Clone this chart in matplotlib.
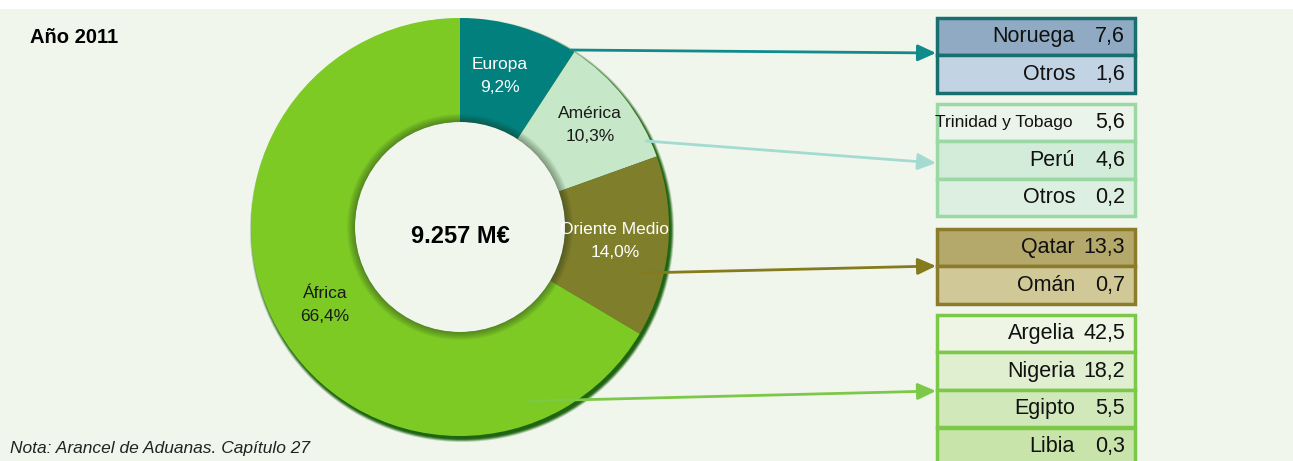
import matplotlib.pyplot as plt
from matplotlib.patches import Rectangle, Circle

plt.rcParams['font.family'] = ['Liberation Sans', 'DejaVu Sans']

# reparto por zonas (%)
zonas = ['Europa', 'América', 'Oriente Medio', 'África']
cuotas = [9.2, 10.3, 14.0, 66.4]
col_zonas = ['#02807e', '#c6e7c8', '#7f7e2b', '#7dca25']
col_txt = ['white', '#1a1a1a', 'white', '#1a1a1a']
total = '9.257 M€'

# detalle por país (%)
paises = [['Noruega', 'Otros'],
          ['Trinidad y Tobago', 'Perú', 'Otros'],
          ['Qatar', 'Omán'],
          ['Argelia', 'Nigeria', 'Egipto', 'Libia']]
valores = [[7.6, 1.6],
           [5.6, 4.6, 0.2],
           [13.3, 0.7],
           [42.5, 18.2, 5.5, 0.3]]
col_celdas = [['#8faac2', '#c2d3e3'],
              ['#ebf4ea', '#d3ebd9', '#ddefe1'],
              ['#b4a86a', '#d0c896'],
              ['#eef5e5', '#e0efcf', '#d1e8ba', '#c9e4aa']]
col_borde = ['#17706f', '#9ad9a4', '#8b7b2a', '#7cc848']
col_flecha = ['#118a8c', '#a3dbd0', '#857a1e', '#7cc848']

W, H = 1293, 461
fondo = '#f1f6ec'
fig = plt.figure(figsize=(W / 100, H / 100), dpi=100)
ax = fig.add_axes([0, 0, 1, 1])

ax.add_patch(Rectangle((0, 0), W, H - 9, facecolor=fondo, edgecolor='none', zorder=0))

# anillo con sombra exterior suave
cx, cy, r, ancho = 460, H - 227, 209, 104
for k, a in enumerate([0.25, 0.45, 0.7, 0.9]):
    ax.add_patch(Circle((cx + 2, cy - 3), r + 3 - k, facecolor='#1c6410', alpha=a,
                        edgecolor='none', zorder=1))
wedges, _ = ax.pie(cuotas, colors=col_zonas, startangle=90, counterclock=False,
                   center=(cx, cy), radius=r, frame=True,
                   wedgeprops=dict(width=ancho, edgecolor='none', zorder=2))
ax.set_xlim(0, W)
ax.set_ylim(0, H)
ax.set_aspect('equal')
ax.axis('off')

# sombra interior del hueco
ri = r - ancho
for k in range(8):
    ax.add_patch(Circle((cx, cy), ri + 8 - k, facecolor='#203018', alpha=0.06,
                        edgecolor='none', zorder=3))
ax.add_patch(Circle((cx, cy), ri, facecolor=fondo, edgecolor='none', zorder=3))

pos_etq = [(500, H - 76), (590, H - 125), (615, H - 241), (325, H - 305)]
for (x, y), z, c, t in zip(pos_etq, zonas, cuotas, col_txt):
    ax.text(x, y, f'{z}\n{c:.1f}%'.replace('.', ','), ha='center', va='center',
            color=t, fontsize=12.5, linespacing=1.65, zorder=4)

ax.text(cx, cy - 10, total, ha='center', va='center', fontsize=17, fontweight='bold',
        zorder=4)
ax.text(30, H - 38, 'Año 2011', fontsize=14.5, fontweight='bold', va='center')
ax.text(10, H - 448, 'Nota: Arancel de Aduanas. Capítulo 27', fontsize=12.5,
        style='italic', va='center', color='#222222')

# tablas
x0, x1, alto = 937, 1135, 37.5
tops = [18, 104, 229, 315]
for k in range(4):
    top = tops[k]
    for i, (p, v) in enumerate(zip(paises[k], valores[k])):
        yb = H - top - (i + 1) * alto
        ax.add_patch(Rectangle((x0, yb), x1 - x0, alto, facecolor=col_celdas[k][i],
                               edgecolor=col_borde[k], linewidth=2.5, zorder=2))
        yc = yb + alto / 2
        small = len(p) > 12
        ax.text(1075 if not small else 1073, yc, p, ha='right', va='center',
                fontsize=12.5 if small else 15.5, color='#111111', zorder=3)
        ax.text(1125, yc, f'{v:.1f}'.replace('.', ','), ha='right', va='center',
                fontsize=15.5, color='#111111', zorder=3)

# flechas
origen = [(571, H - 50), (646, H - 141), (640, H - 273), (530, H - 401)]
destino = [(936, H - 53), (936, H - 163), (936, H - 266), (936, H - 391)]
for o, d, c in zip(origen, destino, col_flecha):
    ax.annotate('', xy=d, xytext=o,
                arrowprops=dict(arrowstyle='-|>,head_length=1.1,head_width=0.5',
                                color=c, lw=2, shrinkA=0, shrinkB=0), zorder=5)

fig.savefig('out.png', dpi=100)
